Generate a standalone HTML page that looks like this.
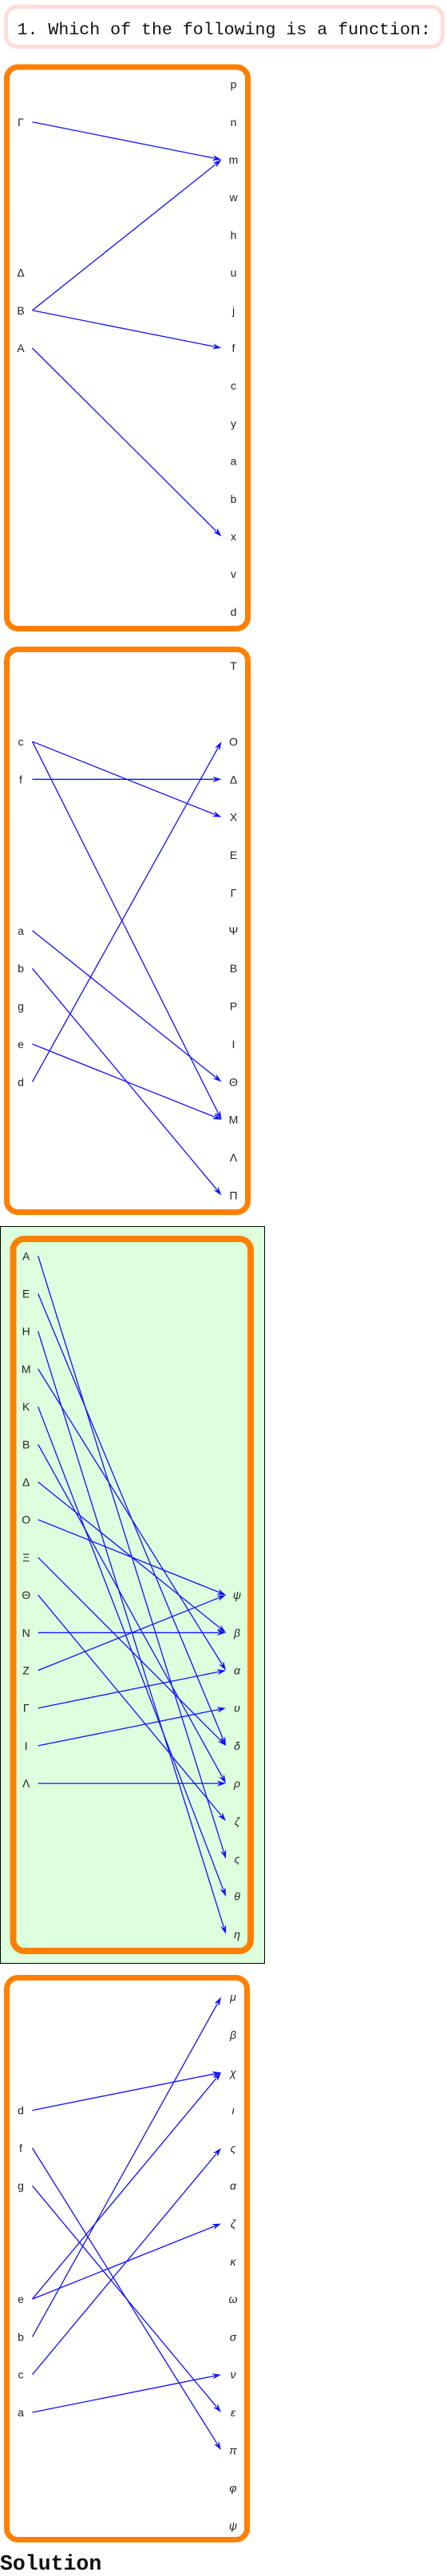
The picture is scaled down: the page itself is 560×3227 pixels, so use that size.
<!DOCTYPE html>
<html><head><meta charset="utf-8">
<style>
html,body{margin:0;padding:0;background:#fff;}
body{width:560px;height:3227px;overflow:hidden;position:relative;}
svg{position:absolute;left:0;top:0;}
.lbl{font-family:"Liberation Sans","DejaVu Sans",sans-serif;font-size:14px;fill:#222;text-anchor:middle;}
.it{font-style:italic;}
</style></head>
<body>
<svg id="chart" width="560" height="3227" viewBox="0 0 560 3227" xmlns="http://www.w3.org/2000/svg">
  <rect x="7.5" y="8.5" width="547" height="50" rx="14" fill="#fff" stroke="#ffdcdc" stroke-width="5"/>
  <text x="21.5" y="43" font-family="Liberation Mono, monospace" font-size="21.6" fill="#111">1. Which of the following is a function:</text>
  <rect x="0.5" y="1536.5" width="331" height="923" fill="#ddffdd" stroke="#000" stroke-width="1"/>
  <text x="0" y="3219" font-family="Liberation Mono, monospace" font-weight="bold" font-size="26.5" fill="#111">Solution</text>
  <g id="panels"></g>
</svg>
<script>
// ---- Panel 1 data ----
const p1RightLabels = ["p","n","m","w","h","u","j","f","c","y","a","b","x","v","d"];
const p1LeftLabels = ["Γ","Δ","B","A"];
const p1LeftSlots = [1,5,6,7];
const p1EdgeFrom = ["Γ","B","B","A"];
const p1EdgeTo = ["m","m","f","x"];
// ---- Panel 2 data ----
const p2RightLabels = ["Τ","","Ο","Δ","Χ","Ε","Γ","Ψ","Β","Ρ","Ι","Θ","Μ","Λ","Π"];
const p2LeftLabels = ["c","f","a","b","g","e","d"];
const p2LeftSlots = [2,3,7,8,9,10,11];
const p2EdgeFrom = ["c","c","f","a","b","e","d"];
const p2EdgeTo = ["Χ","Μ","Δ","Θ","Π","Μ","Ο"];
// ---- Panel 3 data ----
const p3LeftLabels = ["Α","Ε","Η","Μ","Κ","Β","Δ","Ο","Ξ","Θ","Ν","Ζ","Γ","Ι","Λ"];
const p3LeftSlots = [0,1,2,3,4,5,6,7,8,9,10,11,12,13,14];
const p3RightLabels = ["ψ","β","α","υ","δ","ρ","ζ","ς","θ","η"];
const p3RightSlots = [9,10,11,12,13,14,15,16,17,18];
const p3EdgeFrom = ["Α","Ε","Η","Μ","Κ","Β","Δ","Ο","Ξ","Θ","Ν","Ζ","Γ","Ι","Λ"];
const p3EdgeTo = ["ς","δ","η","α","θ","ρ","β","ψ","δ","ζ","β","ψ","α","υ","ρ"];
// ---- Panel 4 data ----
const p4RightLabels = ["μ","β","χ","ι","ς","α","ζ","κ","ω","σ","ν","ε","π","φ","ψ"];
const p4LeftLabels = ["d","f","g","e","b","c","a"];
const p4LeftSlots = [3,4,5,8,9,10,11];
const p4EdgeFrom = ["d","f","g","e","e","b","c","a"];
const p4EdgeTo = ["χ","π","ε","χ","ζ","μ","ς","ν"];

const NS = "http://www.w3.org/2000/svg";
const root = document.getElementById("panels");

function mk(tag, attrs, parent){
  const e = document.createElementNS(NS, tag);
  for (const k in attrs) e.setAttribute(k, attrs[k]);
  parent.appendChild(e);
  return e;
}

function drawPanel(name, geo, leftLabels, leftSlots, rightLabels, rightSlots, edgeFrom, edgeTo, italicRight){
  const g = mk("g", {}, root);
  
  
  const box = mk("rect", {x:geo.bx, y:geo.by, width:geo.bw, height:geo.bh, rx:14, fill:"none", stroke:"#ff8000", "stroke-width":geo.sw}, g);
  
  
  const yOf = s => geo.y0 + s * geo.dy;
  const lpos = {}, rpos = {};
  leftLabels.forEach((t, i) => {
    const y = yOf(leftSlots[i]);
    lpos[t] = y;
    const el = mk("text", {x:geo.lx, y:y + 5, class:"lbl"}, g);
    el.textContent = t;
    
    
  });
  rightLabels.forEach((t, i) => {
    if (!t) return;
    const y = yOf(rightSlots ? rightSlots[i] : i);
    rpos[t] = y;
    const el = mk("text", {x:geo.rx, y:y + 5, class: italicRight ? "lbl it" : "lbl"}, g);
    el.textContent = t;
    
    
  });
  edgeFrom.forEach((f, i) => {
    const x1 = geo.ax1, y1 = lpos[f], x2 = geo.ax2, y2 = rpos[edgeTo[i]];
    const dx = x2 - x1, dy = y2 - y1, L = Math.hypot(dx, dy);
    const ux = dx / L, uy = dy / L, al = 11, aw = 3.6;
    const bx = x2 - ux * al, by = y2 - uy * al;
    const ln = mk("line", {x1:x1, y1:y1, x2:bx + ux*2, y2:by + uy*2, stroke:"#1010ff", "stroke-width":1.3}, g);
    
    
    const pts = [[x2, y2], [bx - uy*aw, by + ux*aw], [x2 - ux*8, y2 - uy*8], [bx + uy*aw, by - ux*aw]];
    const hd = mk("polygon", {points: pts.map(p => p.join(",")).join(" "), fill:"#1010ff"}, g);
    
    
  });
}

drawPanel("panel-1", {bx:8.5,by:84,bw:302,bh:703.5,sw:7,y0:105.6,dy:47.2,lx:26,rx:292.5,ax1:40.5,ax2:277.5},
  p1LeftLabels, p1LeftSlots, p1RightLabels, null, p1EdgeFrom, p1EdgeTo, false);
drawPanel("panel-2", {bx:8.5,by:813.5,bw:302,bh:705,sw:7,y0:834.2,dy:47.37,lx:26,rx:292.5,ax1:40.5,ax2:277.5},
  p2LeftLabels, p2LeftSlots, p2RightLabels, null, p2EdgeFrom, p2EdgeTo, false);
drawPanel("panel-3", {bx:16.5,by:1552,bw:297.5,bh:892,sw:8,y0:1573.3,dy:47.2,lx:32.7,rx:297,ax1:47.7,ax2:283},
  p3LeftLabels, p3LeftSlots, p3RightLabels, p3RightSlots, p3EdgeFrom, p3EdgeTo, true);
drawPanel("panel-4", {bx:8.5,by:2477.5,bw:301,bh:704,sw:7,y0:2501.7,dy:47.3,lx:26,rx:292,ax1:40.5,ax2:277},
  p4LeftLabels, p4LeftSlots, p4RightLabels, null, p4EdgeFrom, p4EdgeTo, true);
</script>
</body></html>
